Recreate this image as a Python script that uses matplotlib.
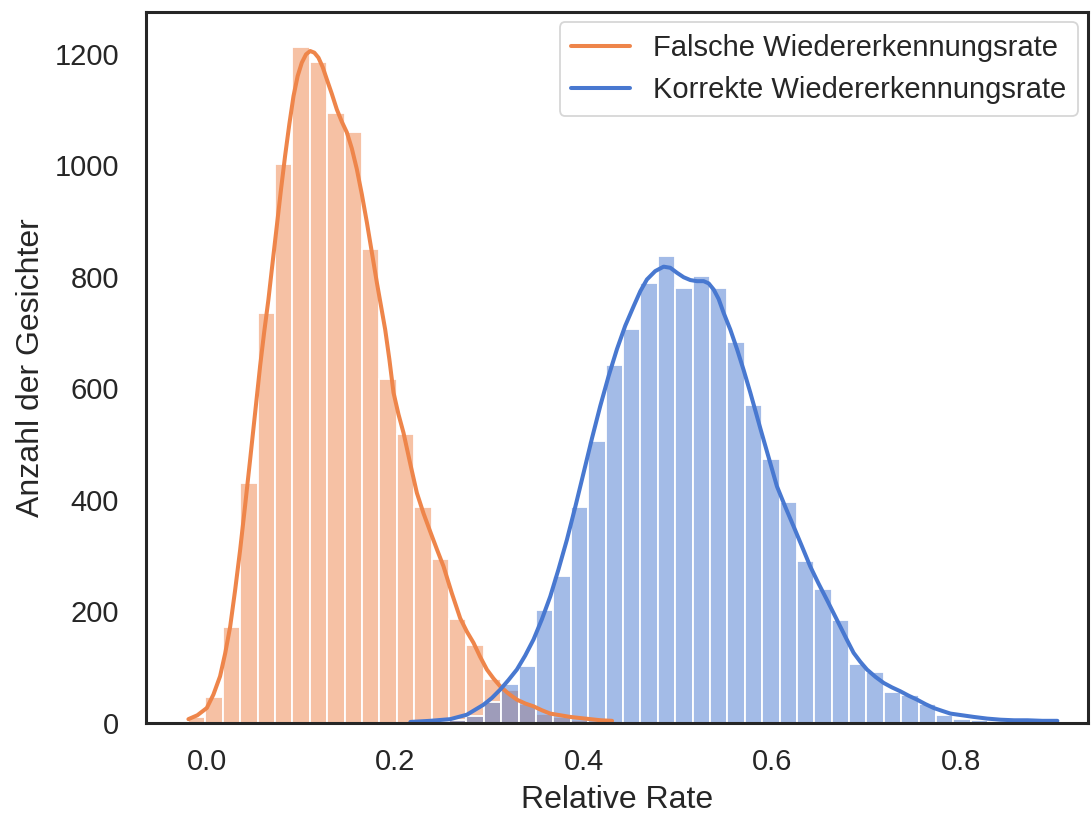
import numpy as np
import matplotlib
matplotlib.use("Agg")
import matplotlib.pyplot as plt

plt.rcParams['font.family'] = ['Liberation Sans', 'DejaVu Sans']

# ---- data ----
bin_first_edge = -0.0199
bin_last_edge = 0.903
n_bins = 50

false_counts = [9, 45, 172, 430, 735, 1003, 1213, 1186, 1093, 1059,
                849, 617, 517, 387, 293, 186, 139, 78, 58, 34,
                16, 9, 5, 3, 1, 0, 0, 0, 0, 0,
                0, 0, 0, 0, 0, 0, 0, 0, 0, 0,
                0, 0, 0, 0, 0, 0, 0, 0, 0, 0]

correct_counts = [0, 0, 0, 0, 0, 0, 0, 0, 0, 0,
                  0, 0, 0, 1, 2, 4, 12, 36, 69, 102,
                  202, 263, 386, 506, 641, 707, 788, 838, 780, 802,
                  780, 683, 569, 472, 396, 290, 240, 184, 105, 91,
                  55, 49, 33, 14, 7, 4, 2, 2, 1, 1]

false_kde_x = [-0.0195, -0.01, 0.0, 0.007, 0.0141, 0.0195, 0.0248, 0.0301, 0.0354,
               0.0407, 0.046, 0.0513, 0.0566, 0.061, 0.0654, 0.07, 0.0743, 0.0787,
               0.0831, 0.0876, 0.092, 0.0964, 0.1008, 0.1053, 0.1097, 0.1141,
               0.1185, 0.1230, 0.1274, 0.1327, 0.138, 0.1433, 0.1486, 0.1539,
               0.1592, 0.1645, 0.1699, 0.1752, 0.1805, 0.1849, 0.1893, 0.1937,
               0.1981, 0.2034, 0.2087, 0.2158, 0.2229, 0.23, 0.237, 0.2441,
               0.2512, 0.26, 0.2689, 0.276, 0.283, 0.29, 0.2972, 0.3042, 0.3113,
               0.32, 0.329, 0.338, 0.3467, 0.3555, 0.3644, 0.375, 0.3857, 0.396,
               0.407, 0.418, 0.43]
false_kde_y = [6, 13, 26, 50, 83, 124, 172, 238, 310,
               390, 472, 556, 640, 702, 759, 828, 891, 956,
               1017, 1074, 1124, 1160, 1184, 1199, 1205, 1202,
               1193, 1176, 1154, 1128, 1100, 1078, 1059, 1030,
               993, 948, 897, 843, 789, 747, 705, 652,
               592, 553, 520, 465, 412, 375, 343, 311,
               280, 232, 187, 163, 143, 118, 95, 79, 65,
               52, 41, 34, 29, 22, 16, 13, 10, 8,
               6, 4, 3]

correct_kde_x = [0.216, 0.237, 0.2583, 0.276, 0.2937, 0.3025, 0.3113, 0.32, 0.329,
                 0.3378, 0.3467, 0.3555, 0.3644, 0.3732, 0.3821, 0.391, 0.3998,
                 0.4087, 0.4175, 0.4264, 0.4352, 0.444, 0.4529, 0.46, 0.467,
                 0.4758, 0.4847, 0.4918, 0.4989, 0.506, 0.513, 0.52, 0.5272,
                 0.5325, 0.5378, 0.5431, 0.5484, 0.5555, 0.5626, 0.5697, 0.5767,
                 0.5873, 0.5961, 0.6049, 0.6138, 0.6226, 0.6315, 0.6403, 0.6492,
                 0.658, 0.6651, 0.6722, 0.6793, 0.6863, 0.6934, 0.7005, 0.7094,
                 0.7182, 0.727, 0.7359, 0.7448, 0.7536, 0.7625, 0.7713, 0.78,
                 0.789, 0.8014, 0.8138, 0.828, 0.8424, 0.8565, 0.8707, 0.8866, 0.9025]
correct_kde_y = [1, 3, 6, 14, 32, 44, 59, 76, 95,
                 120, 149, 185, 226, 275, 328, 387, 448,
                 510, 568, 622, 670, 712, 747, 774, 795,
                 810, 818, 816, 807, 799, 794, 792, 792,
                 788, 777, 760, 735, 705, 670, 632, 592,
                 528, 476, 424, 387, 352, 316, 280, 249,
                 220, 196, 172, 148, 125, 109, 95, 82,
                 71, 63, 56, 48, 41, 33, 26, 21,
                 16, 13, 10, 7, 5, 4, 4, 3, 3]

labels = ["Falsche Wiedererkennungsrate", "Korrekte Wiedererkennungsrate"]
colors = ["#ee854a", "#4878d0"]
x_ticks = [0.0, 0.2, 0.4, 0.6, 0.8]
y_ticks = [0, 200, 400, 600, 800, 1000, 1200]

# ---- plot ----
edges = np.linspace(bin_first_edge, bin_last_edge, n_bins + 1)
widths = np.diff(edges)

fig = plt.figure(figsize=(10.91, 8.16), dpi=100)
ax = fig.add_axes([146 / 1091, (816 - 722.5) / 816, (1088 - 146) / 1091, (722.5 - 12) / 816])

for counts, c in zip([false_counts, correct_counts], colors):
    ax.bar(edges[:-1], counts, width=widths, align='edge',
           color=matplotlib.colors.to_rgba(c, 0.5),
           edgecolor='white', linewidth=1.3)

ax.plot(false_kde_x, false_kde_y, color=colors[0], lw=2.9, label=labels[0],
        solid_capstyle='round', solid_joinstyle='round')
ax.plot(correct_kde_x, correct_kde_y, color=colors[1], lw=2.9, label=labels[1],
        solid_capstyle='round', solid_joinstyle='round')

ax.set_xlim(-0.0645, 0.935)
ax.set_ylim(0, 1275)
ax.set_xticks(x_ticks)
ax.set_xticklabels([f"{t:.1f}" for t in x_ticks])
ax.set_yticks(y_ticks)
ax.tick_params(axis='both', length=0, labelsize=21, colors='#262626')
ax.tick_params(axis='x', pad=18)
ax.tick_params(axis='y', pad=19.5)

for sp in ax.spines.values():
    sp.set_color('#262626')
    sp.set_linewidth(2.2)

ax.set_xlabel("Relative Rate", fontsize=23, color='#262626', labelpad=7)
ax.set_ylabel("Anzahl der Gesichter", fontsize=23, color='#262626', labelpad=6)

leg = ax.legend(loc='upper right', fontsize=21, frameon=True,
                borderaxespad=0.35, handlelength=2.0)
leg.get_frame().set_edgecolor('#cccccc')
leg.get_frame().set_linewidth(1.3)
for t in leg.get_texts():
    t.set_color('#262626')

fig.savefig("out.png", dpi=100)
